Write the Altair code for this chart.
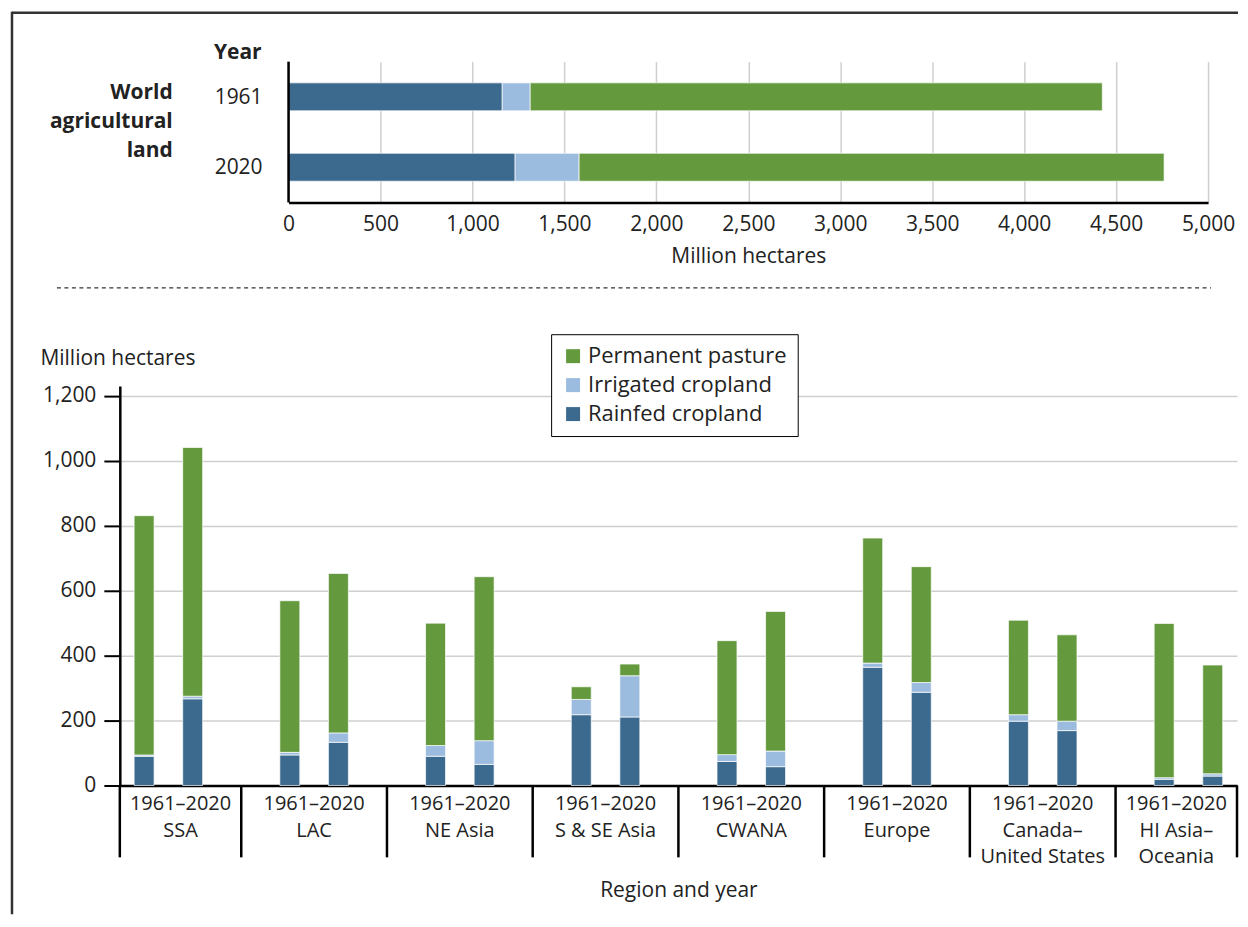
import altair as alt
import pandas as pd

# ---------------- data ----------------
world_years = ["1961", "2020"]
world_rainfed = [1162, 1232]
world_irrigated = [152, 348]
world_pasture = [3111, 3181]
world_ticks = [0, 500, 1000, 1500, 2000, 2500, 3000, 3500, 4000, 4500, 5000]
world_label_lines = ["World", "agricultural", "land"]

regions = ["SSA", "LAC", "NE Asia", "S & SE Asia", "CWANA", "Europe",
           "Canada–United States", "HI Asia–Oceania"]
region_line1 = ["SSA", "LAC", "NE Asia", "S & SE Asia", "CWANA", "Europe", "Canada–", "HI Asia–"]
region_line2 = ["", "", "", "", "", "", "United States", "Oceania"]
years = ["1961", "2020"]
year_span_label = "1961–2020"

rainfed_1961 = [90, 94, 90, 218, 74, 364, 198, 19]
irrigated_1961 = [4, 8, 33, 47, 21, 13, 20, 5]
pasture_1961 = [737, 467, 377, 39, 351, 385, 291, 475]
rainfed_2020 = [267, 133, 65, 211, 58, 287, 169, 29]
irrigated_2020 = [8, 29, 73, 127, 48, 30, 29, 7]
pasture_2020 = [766, 491, 505, 36, 430, 357, 266, 335]
region_ticks = [0, 200, 400, 600, 800, 1000, 1200]

categories = ["Permanent pasture", "Irrigated cropland", "Rainfed cropland"]
colors = ["#64993e", "#9bbbdf", "#3c6a8e"]
stack_rank = {"Rainfed cropland": 0, "Irrigated cropland": 1, "Permanent pasture": 2}

FONT = "Open Sans"
TEXT = "#222222"
FS = 21
FS_X = 20

# ---------------- tables ----------------
world_rows = []
for k, yr in enumerate(world_years):
    for cat, vals in [("Rainfed cropland", world_rainfed),
                      ("Irrigated cropland", world_irrigated),
                      ("Permanent pasture", world_pasture)]:
        world_rows.append({"Year": yr, "Category": cat, "Value": vals[k], "ord": stack_rank[cat]})
world_df = pd.DataFrame(world_rows)

series = {
    ("1961", "Rainfed cropland"): rainfed_1961,
    ("1961", "Irrigated cropland"): irrigated_1961,
    ("1961", "Permanent pasture"): pasture_1961,
    ("2020", "Rainfed cropland"): rainfed_2020,
    ("2020", "Irrigated cropland"): irrigated_2020,
    ("2020", "Permanent pasture"): pasture_2020,
}
SLOTS = 3  # two years + gap
reg_rows = []
for i, reg in enumerate(regions):
    for j, yr in enumerate(years):
        for cat in ["Rainfed cropland", "Irrigated cropland", "Permanent pasture"]:
            reg_rows.append({"Region": reg, "Year": yr, "slot": i * SLOTS + j,
                             "Category": cat, "Value": series[(yr, cat)][i],
                             "ord": stack_rank[cat]})
reg_df = pd.DataFrame(reg_rows)

x_lo = -0.5
x_hi = len(regions) * SLOTS - 1.5
seps = [x_lo] + [SLOTS * i - 1 for i in range(1, len(regions))] + [x_hi]
sep_df = pd.DataFrame({"slot": seps})
lab_df = pd.DataFrame({
    "slot": [(seps[i] + seps[i + 1]) / 2 for i in range(len(regions))],
    "span": [year_span_label] * len(regions),
    "l1": region_line1,
    "l2": region_line2,
})
one = pd.DataFrame({"a": [0]})

color_scale = alt.Scale(domain=categories, range=colors)

# ---------------- top chart ----------------
top_x_scale = alt.Scale(domain=[0, 5000], range=[169, 1090], nice=False)
top_bars = alt.Chart(world_df).mark_bar(size=28, stroke="white", strokeWidth=0.7).encode(
    x=alt.X("Value:Q", stack="zero", scale=top_x_scale,
            axis=alt.Axis(values=world_ticks, format=",d", title="Million hectares",
                          ticks=False, labelFlush=False, labelPadding=11, titlePadding=11,
                          domainColor="black", domainWidth=2.5,
                          gridColor="#cfcfcf", gridWidth=1.5)),
    y=alt.Y("Year:N", scale=alt.Scale(domain=world_years), axis=None),
    color=alt.Color("Category:N", scale=color_scale, legend=None),
    order=alt.Order("ord:Q", sort="ascending"),
)
top_axis_line = alt.Chart(one).mark_rule(color="black", strokeWidth=2.5).encode(
    x=alt.datum(0, scale=top_x_scale))
year_labels = alt.Chart(pd.DataFrame({"Year": world_years})).mark_text(
    align="right", baseline="middle", dx=-26, dy=1, fontSize=FS, font=FONT, color=TEXT
).encode(x=alt.datum(0), y=alt.Y("Year:N"), text="Year:N")
year_title = alt.Chart(one).mark_text(
    align="right", baseline="middle", dx=-27, fontSize=FS, font=FONT, color=TEXT,
    fontWeight="bold", text="Year"
).encode(x=alt.datum(0), y=alt.value(-9))
world_texts = [
    alt.Chart(one).mark_text(align="right", baseline="middle", fontSize=FS, font=FONT,
                             color=TEXT, fontWeight="bold", text=line
                             ).encode(x=alt.value(53), y=alt.value(31 + k * 29.5))
    for k, line in enumerate(world_label_lines)
]
border_top = alt.Chart(one).mark_rule(color="#333333", strokeWidth=2.5).encode(
    x=alt.value(-108), x2=alt.value(1120), y=alt.value(-49))
border_left = alt.Chart(one).mark_rule(color="#333333", strokeWidth=2.5).encode(
    x=alt.value(-108), y=alt.value(-50), y2=alt.value(854))
dashed = alt.Chart(one).mark_rule(color="#333333", strokeWidth=1.3, strokeDash=[4, 3.5]).encode(
    x=alt.value(-63), x2=alt.value(1093), y=alt.value(226.5))

top = alt.layer(top_bars, top_axis_line, year_labels, year_title, *world_texts,
                border_top, border_left, dashed).properties(width=1090, height=141)

# ---------------- bottom chart ----------------
bx_scale = alt.Scale(domain=[x_lo, x_hi], nice=False, zero=False, padding=0)
bars = alt.Chart(reg_df).mark_bar(size=20, stroke="white", strokeWidth=0.7).encode(
    x=alt.X("slot:Q", scale=bx_scale,
            axis=alt.Axis(labels=False, ticks=False, grid=False, domainColor="black",
                          domainWidth=2.5, title="Region and year", titlePadding=94)),
    y=alt.Y("Value:Q", stack="zero", scale=alt.Scale(domain=[0, 1230], nice=False),
            axis=alt.Axis(values=region_ticks, format=",d", tickSize=16, tickColor="black",
                          tickWidth=2, domainColor="black", domainWidth=2.5,
                          gridColor="#cfcfcf", gridWidth=1.5, labelPadding=8,
                          title="Million hectares", titleAngle=0, titleAlign="left",
                          titleBaseline="middle", titleX=-80, titleY=-28)),
    color=alt.Color("Category:N", scale=color_scale,
                    legend=alt.Legend(orient="none", legendX=432, legendY=-52, title=None,
                                      symbolType="square", symbolSize=196,
                                      symbolStrokeWidth=0, labelFontSize=22,
                                      labelFont=FONT, labelColor=TEXT, labelLimit=400,
                                      strokeColor="black", fillColor="white",
                                      padding=11, rowPadding=7, labelOffset=4)),
    order=alt.Order("ord:Q", sort="ascending"),
)
sep_rules = alt.Chart(sep_df).mark_rule(color="black", strokeWidth=2.5).encode(
    x=alt.X("slot:Q"), y=alt.value(400), y2=alt.value(472))
span_text = alt.Chart(lab_df).mark_text(baseline="middle", fontSize=FS_X, font=FONT, color=TEXT).encode(
    x=alt.X("slot:Q"), y=alt.value(419), text="span:N")
l1_text = alt.Chart(lab_df).mark_text(baseline="middle", fontSize=FS_X, font=FONT, color=TEXT).encode(
    x=alt.X("slot:Q"), y=alt.value(446), text="l1:N")
l2_text = alt.Chart(lab_df).mark_text(baseline="middle", fontSize=FS_X, font=FONT, color=TEXT).encode(
    x=alt.X("slot:Q"), y=alt.value(472), text="l2:N")

bottom = alt.layer(bars, sep_rules, span_text, l1_text, l2_text).properties(width=1119, height=400)

chart = alt.vconcat(top, bottom, spacing=184, bounds="flush").resolve_legend(
    color="independent"
).properties(
    padding={"left": 2, "top": 1, "right": 0, "bottom": 0}
).configure_view(stroke=None).configure_axis(
    labelFont=FONT, titleFont=FONT, labelFontSize=FS, titleFontSize=FS,
    labelColor=TEXT, titleColor=TEXT, titleFontWeight="normal"
).configure_text(font=FONT)

chart.save("out.html", embed_options={"renderer": "svg", "actions": False})
